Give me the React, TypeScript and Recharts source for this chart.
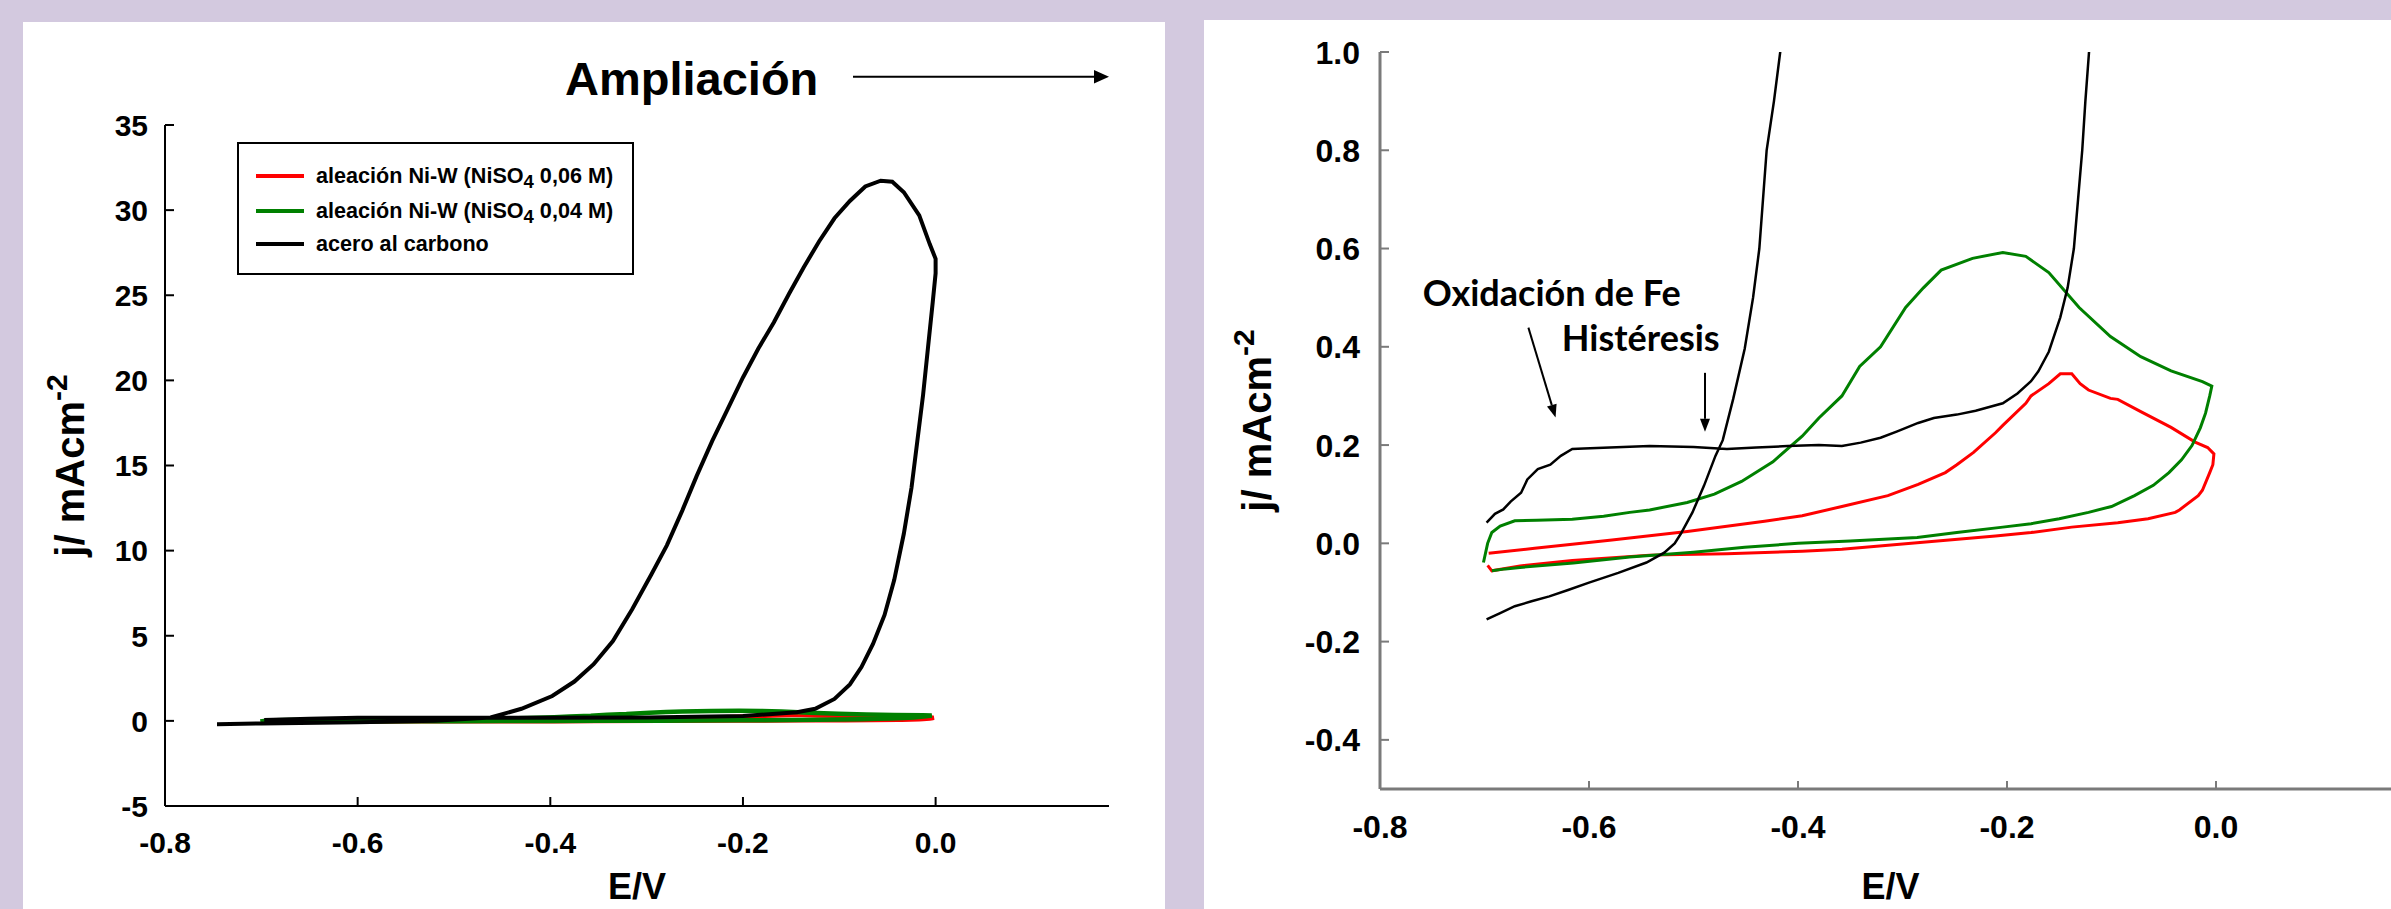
import React from 'react';
import { LineChart, Line, XAxis, YAxis, ReferenceLine, ReferenceDot, Legend } from 'recharts';

// ---------------- DATA ----------------
const nombresSeries = ['aleación Ni-W (NiSO4 0,06 M)', 'aleación Ni-W (NiSO4 0,04 M)', 'acero al carbono'];
const coloresSeries = ['#ff0000', '#008000', '#000000'];

// Ni-W alloy, NiSO4 0.06 M  (E/V, j/mA cm-2)
const aleacion006: number[][] = [
  [-0.696, -0.02], [-0.652, -0.01], [-0.616, -0.002], [-0.578, 0.007], [-0.506, 0.024], [-0.432, 0.045],
  [-0.396, 0.056], [-0.358, 0.075], [-0.314, 0.097], [-0.285, 0.12], [-0.259, 0.144], [-0.248, 0.16],
  [-0.232, 0.185], [-0.211, 0.225], [-0.204, 0.24], [-0.182, 0.285], [-0.177, 0.3], [-0.16, 0.325],
  [-0.149, 0.345], [-0.138, 0.345], [-0.13, 0.325], [-0.122, 0.312], [-0.101, 0.295], [-0.094, 0.293],
  [-0.072, 0.268], [-0.043, 0.236], [-0.02, 0.206], [-0.008, 0.195], [-0.002, 0.182], [-0.003, 0.16],
  [-0.006, 0.144], [-0.013, 0.108], [-0.017, 0.097], [-0.035, 0.068], [-0.039, 0.063], [-0.065, 0.05],
  [-0.094, 0.042], [-0.138, 0.033], [-0.177, 0.022], [-0.211, 0.015], [-0.286, 0.001], [-0.358, -0.012],
  [-0.396, -0.016], [-0.468, -0.021], [-0.542, -0.024], [-0.616, -0.035], [-0.666, -0.046], [-0.693, -0.056],
  [-0.697, -0.045],
];

// Ni-W alloy, NiSO4 0.04 M
const aleacion004: number[][] = [
  [-0.693, -0.056], [-0.68, -0.052], [-0.666, -0.049], [-0.615, -0.04], [-0.561, -0.028], [-0.5, -0.018],
  [-0.451, -0.008], [-0.4, 0.0], [-0.35, 0.005], [-0.286, 0.012], [-0.248, 0.022], [-0.204, 0.033],
  [-0.177, 0.04], [-0.15, 0.05], [-0.122, 0.063], [-0.1, 0.075], [-0.078, 0.097], [-0.06, 0.118],
  [-0.045, 0.144], [-0.033, 0.17], [-0.023, 0.199], [-0.015, 0.235], [-0.01, 0.265], [-0.006, 0.3],
  [-0.004, 0.32], [-0.013, 0.329], [-0.043, 0.351], [-0.072, 0.38], [-0.101, 0.421], [-0.131, 0.48],
  [-0.16, 0.551], [-0.182, 0.584], [-0.204, 0.592], [-0.233, 0.58], [-0.263, 0.556], [-0.28, 0.52],
  [-0.297, 0.48], [-0.321, 0.4], [-0.341, 0.36], [-0.358, 0.3], [-0.38, 0.255], [-0.396, 0.218],
  [-0.424, 0.166], [-0.454, 0.126], [-0.48, 0.1], [-0.506, 0.083], [-0.542, 0.068], [-0.561, 0.063],
  [-0.586, 0.055], [-0.616, 0.049], [-0.65, 0.047], [-0.671, 0.046], [-0.685, 0.035], [-0.693, 0.022],
  [-0.697, 0.0], [-0.701, -0.039],
];

// Carbon steel, full scan (left panel)
const aceroCompleto: number[][] = [
  [-0.746, -0.2], [-0.7, -0.15], [-0.6, -0.08], [-0.52, 0.0], [-0.462, 0.2], [-0.43, 0.71], [-0.398, 1.46],
  [-0.375, 2.31], [-0.355, 3.33], [-0.335, 4.69], [-0.315, 6.56], [-0.295, 8.61], [-0.279, 10.31],
  [-0.263, 12.35], [-0.248, 14.39], [-0.232, 16.43], [-0.216, 18.3], [-0.2, 20.17], [-0.184, 21.87],
  [-0.168, 23.4], [-0.152, 25.1], [-0.137, 26.63], [-0.121, 28.16], [-0.105, 29.52], [-0.089, 30.54],
  [-0.073, 31.39], [-0.057, 31.73], [-0.045, 31.67], [-0.033, 31.05], [-0.017, 29.69], [-0.006, 27.99],
  [0.0, 27.14], [0.0, 26.29], [-0.003, 24.59], [-0.008, 21.87], [-0.013, 19.15], [-0.019, 16.43],
  [-0.025, 13.71], [-0.033, 10.99], [-0.043, 8.27], [-0.053, 6.22], [-0.065, 4.52], [-0.077, 3.16],
  [-0.089, 2.14], [-0.105, 1.29], [-0.125, 0.71], [-0.144, 0.51], [-0.2, 0.28], [-0.3, 0.2],
  [-0.45, 0.19], [-0.6, 0.19], [-0.65, 0.12], [-0.697, 0.05],
];

// Carbon steel, low-current detail (right panel)
const aceroAmpliado: number[][] = [
  [-0.698, -0.155], [-0.685, -0.142], [-0.671, -0.128], [-0.655, -0.118], [-0.638, -0.108], [-0.62, -0.095],
  [-0.6, -0.08], [-0.572, -0.06], [-0.545, -0.039], [-0.528, -0.019], [-0.518, 0.0], [-0.512, 0.02],
  [-0.501, 0.063], [-0.49, 0.117], [-0.479, 0.178], [-0.472, 0.21], [-0.462, 0.294], [-0.451, 0.396],
  [-0.443, 0.5], [-0.437, 0.6], [-0.43, 0.8], [-0.423, 0.9], [-0.417, 1.0], [-0.405, 1.4],
  [-0.113, 1.4], [-0.1215, 1.0], [-0.125, 0.9], [-0.128, 0.8], [-0.132, 0.7], [-0.136, 0.6],
  [-0.142, 0.52], [-0.149, 0.46], [-0.16, 0.39], [-0.17, 0.35], [-0.177, 0.33], [-0.19, 0.305],
  [-0.204, 0.285], [-0.23, 0.27], [-0.248, 0.262], [-0.27, 0.255], [-0.285, 0.245], [-0.305, 0.228],
  [-0.321, 0.215], [-0.34, 0.205], [-0.358, 0.198], [-0.38, 0.2], [-0.41, 0.198], [-0.44, 0.195],
  [-0.468, 0.192], [-0.5, 0.196], [-0.542, 0.198], [-0.58, 0.195], [-0.605, 0.193], [-0.616, 0.192],
  [-0.627, 0.178], [-0.637, 0.16], [-0.649, 0.151], [-0.659, 0.13], [-0.665, 0.103], [-0.675, 0.085],
  [-0.682, 0.069], [-0.69, 0.06], [-0.698, 0.042],
];

const ticksXIzq = [-0.8, -0.6, -0.4, -0.2, 0.0];
const ticksYIzq = [-5, 0, 5, 10, 15, 20, 25, 30, 35];
const ticksXDer = [-0.8, -0.6, -0.4, -0.2, 0.0];
const ticksYDer = [-0.4, -0.2, 0.0, 0.2, 0.4, 0.6, 0.8, 1.0];

const anotaciones = [
  { texto: 'Oxidación de Fe', x: -0.759, y: 0.51 },
  { texto: 'Histéresis', x: -0.626, y: 0.418 },
];
const flechas = [
  { x1: -0.658, y1: 0.439, x2: -0.632, y2: 0.256 },
  { x1: -0.489, y1: 0.347, x2: -0.489, y2: 0.227 },
];

// ---------------- HELPERS ----------------
const ARIAL = '"Liberation Sans", Arial, Helvetica, sans-serif';
const CALIBRI = 'Lato, "Open Sans", sans-serif';
const toPts = (a: number[][]) => a.map(([x, y]) => ({ x, y }));

const fmt1 = (v: number) => (Math.abs(v) < 1e-9 ? '0.0' : v.toFixed(1));
const fmt0 = (v: number) => String(Math.round(v));

const makeYTick = (fmt: (v: number) => string, size: number, gap: number, len: number, color: string, sw: number) =>
  (props: any) => {
    const { x, y, payload } = props;
    return (
      <g>
        <line x1={x} y1={y} x2={x + len} y2={y} stroke={color} strokeWidth={sw} />
        <text x={x - gap} y={y} dy="0.36em" textAnchor="end" fontFamily={ARIAL} fontWeight="bold" fontSize={size} fill="#000">
          {fmt(payload.value)}
        </text>
      </g>
    );
  };

const makeXTick = (fmt: (v: number) => string, size: number, gap: number, len: number, color: string, sw: number) =>
  (props: any) => {
    const { x, y, payload } = props;
    return (
      <g>
        <line x1={x} y1={y} x2={x} y2={y - len} stroke={color} strokeWidth={sw} />
        <text x={x} y={y + gap} dy="0.36em" textAnchor="middle" fontFamily={ARIAL} fontWeight="bold" fontSize={size} fill="#000">
          {fmt(payload.value)}
        </text>
      </g>
    );
  };

const yTitle = (dx: number, size: number, fb: { x: number; y: number; height: number }) => (p: any) => {
  const vb = p && p.viewBox ? p.viewBox : fb;
  const bx = vb.x + dx;
  const cy = vb.y + vb.height / 2;
  return (
    <text x={bx} y={cy} transform={`rotate(-90 ${bx} ${cy})`} textAnchor="middle" fontFamily={ARIAL} fontWeight="bold" fontSize={size} fill="#000">
      j/ mAcm<tspan dy={-size * 0.42} fontSize={size * 0.75}>-2</tspan>
    </text>
  );
};

const xTitle = (dy: number, dx: number, size: number, fb: { x: number; y: number; width: number }) => (p: any) => {
  const vb = p && p.viewBox ? p.viewBox : fb;
  return (
    <text x={vb.x + vb.width / 2 + dx} y={vb.y + dy} textAnchor="middle" fontFamily={ARIAL} fontWeight="bold" fontSize={size} fill="#000">
      E/V
    </text>
  );
};

const renderNombre = (name: string) => {
  const parts = name.split('NiSO4');
  if (parts.length < 2) return name;
  return (
    <>
      {parts[0]}NiSO<span style={{ fontSize: 18.5, position: 'relative', top: 5 }}>4</span>{parts[1]}
    </>
  );
};

const LegendBox = (props: any) => {
  const payload = [...(props.payload || [])].sort(
    (a: any, b: any) => nombresSeries.indexOf(a.value) - nombresSeries.indexOf(b.value)
  );
  const rowsY = [34, 69, 102];
  return (
    <div style={{ position: 'relative', width: 397, height: 133, border: '2px solid #000', boxSizing: 'border-box', background: '#fff' }}>
      {payload.map((it: any, i: number) => (
        <div key={i}>
          <div style={{ position: 'absolute', left: 17, top: rowsY[i] - 2 - 2, width: 48, height: 4, background: it.color }} />
          <div style={{ position: 'absolute', left: 77, top: rowsY[i] - 14, height: 24, lineHeight: '24px', fontFamily: ARIAL, fontWeight: 'bold', fontSize: 21.6, whiteSpace: 'nowrap', color: '#000' }}>
            {renderNombre(it.value)}
          </div>
        </div>
      ))}
    </div>
  );
};

const arrowShape = (p: any) => {
  const { x1, y1, x2, y2 } = p;
  const ang = Math.atan2(y2 - y1, x2 - x1);
  const L = 13, W = 5;
  const bx = x2 - L * Math.cos(ang), by = y2 - L * Math.sin(ang);
  const px = -Math.sin(ang) * W, py = Math.cos(ang) * W;
  return (
    <g>
      <line x1={x1} y1={y1} x2={bx} y2={by} stroke="#000" strokeWidth={2} />
      <polygon points={`${x2},${y2} ${bx + px},${by + py} ${bx - px},${by - py}`} fill="#000" />
    </g>
  );
};

const textShape = (texto: string) => (p: any) => (
  <text x={p.cx} y={p.cy} dy="0.36em" textAnchor="start" fontFamily={CALIBRI} fontWeight="bold" fontSize={36} fill="#000">
    {texto}
  </text>
);

const seriesIzq = [toPts(aleacion006), toPts(aleacion004), toPts(aceroCompleto)];
const seriesDer = [toPts(aleacion006), toPts(aleacion004), toPts(aceroAmpliado)];

export default function App() {
  const axisL = { stroke: '#000', strokeWidth: 2 };
  const axisR = { stroke: '#7a7a7a', strokeWidth: 3 };
  return (
    <div style={{ position: 'fixed', left: 0, top: 0, width: 2391, height: 909, overflow: 'hidden', background: '#d3c9df', fontFamily: ARIAL }}>
      {/* white panels */}
      <div style={{ position: 'absolute', left: 23, top: 22, width: 1142, height: 900, background: '#fff' }} />
      <div style={{ position: 'absolute', left: 1204, top: 20, width: 1200, height: 900, background: '#fff' }} />

      {/* left chart */}
      <div style={{ position: 'absolute', left: 0, top: 0, width: 1165, height: 909 }}>
        <LineChart width={1165} height={909} margin={{ top: 125, right: 56, bottom: 43, left: 40 }}>
          <XAxis dataKey="x" type="number" domain={[-0.8, 0.18]} ticks={ticksXIzq} interval={0} allowDataOverflow
            height={60} tickSize={0} tickMargin={0} tickLine={false} axisLine={axisL}
            tick={makeXTick(fmt1, 30, 36, 9, '#000', 2)}
            label={{ content: xTitle(93, 0, 36, { x: 165, y: 806, width: 944 }) }} />
          <XAxis xAxisId="top" orientation="top" dataKey="x" type="number" domain={[-0.8, 0.18]} allowDataOverflow
            height={0} tick={false} tickLine={false} axisLine={axisL} />
          <YAxis type="number" domain={[-5, 35]} ticks={ticksYIzq} interval={0} allowDataOverflow width={125}
            tickSize={0} tickMargin={0} tickLine={false} axisLine={axisL}
            tick={makeYTick(fmt0, 30, 17, 9, '#000', 2)}
            label={{ content: yTitle(44, 40, { x: 40, y: 125, height: 681 }) }} />
          <YAxis yAxisId="right" orientation="right" type="number" domain={[-5, 35]} allowDataOverflow width={0}
            tick={false} tickLine={false} axisLine={axisL} />
          <Legend layout="vertical" align="center" verticalAlign="middle" content={<LegendBox />}
            wrapperStyle={{ left: 237, top: 142, width: 397, height: 133 }} />
          {seriesIzq.map((d, i) => (
            <Line key={i} data={d} dataKey="y" name={nombresSeries[i]} type="linear" stroke={coloresSeries[i]}
              strokeWidth={i === 2 ? 4 : 4.5} dot={false} activeDot={false} isAnimationActive={false} />
          ))}
        </LineChart>
      </div>

      {/* title + arrow */}
      <svg style={{ position: 'absolute', left: 0, top: 0, pointerEvents: 'none' }} width={1165} height={120}>
        <text x={565} y={95} fontFamily={ARIAL} fontWeight="bold" fontSize={47} fill="#000">Ampliación</text>
        <line x1={853} y1={76.7} x2={1096} y2={76.7} stroke="#000" strokeWidth={2} />
        <polygon points="1094,70 1109,76.7 1094,83.4" fill="#000" />
      </svg>

      {/* right chart */}
      <div style={{ position: 'absolute', left: 1204, top: 0, width: 1187, height: 909, overflow: 'hidden' }}>
        <LineChart width={1250} height={909} margin={{ top: 52, right: 29, bottom: 50, left: 40 }}>
          <XAxis dataKey="x" type="number" domain={[-0.8, 0.2]} ticks={ticksXDer} interval={0} allowDataOverflow
            height={70} tickSize={0} tickMargin={0} tickLine={false} axisLine={axisR}
            tick={makeXTick(fmt1, 32, 37, 8, '#7a7a7a', 2)}
            label={{ content: xTitle(110, -12, 36, { x: 176, y: 789, width: 1045 }) }} />
          <XAxis xAxisId="top" orientation="top" dataKey="x" type="number" domain={[-0.8, 0.2]} allowDataOverflow
            height={0} tick={false} tickLine={false} axisLine={axisR} />
          <YAxis type="number" domain={[-0.5, 1.0]} ticks={ticksYDer} interval={0} allowDataOverflow width={136}
            tickSize={0} tickMargin={0} tickLine={false} axisLine={axisR}
            tick={makeYTick(fmt1, 32, 20, 9, '#7a7a7a', 2)}
            label={{ content: yTitle(27, 40, { x: 40, y: 52, height: 737 }) }} />
          {seriesDer.map((d, i) => (
            <Line key={i} data={d} dataKey="y" name={nombresSeries[i]} type="linear" stroke={coloresSeries[i]}
              strokeWidth={i === 2 ? 2.5 : 3} dot={false} activeDot={false} isAnimationActive={false} />
          ))}
          {flechas.map((f, i) => (
            <ReferenceLine key={'f' + i} segment={[{ x: f.x1, y: f.y1 }, { x: f.x2, y: f.y2 }]} stroke="#000" strokeWidth={2} shape={arrowShape} />
          ))}
          {anotaciones.map((a, i) => (
            <ReferenceDot key={'a' + i} x={a.x} y={a.y} r={0} shape={textShape(a.texto)} />
          ))}
        </LineChart>
      </div>
    </div>
  );
}
